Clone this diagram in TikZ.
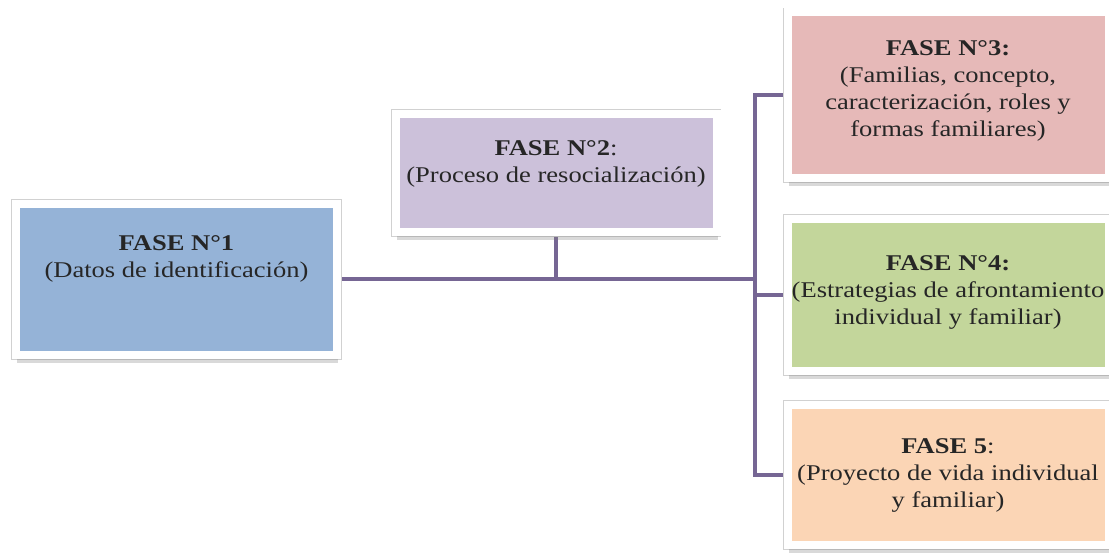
\documentclass[tikz,border=0pt]{standalone}
\usepackage{fontspec}
\setmainfont[FakeStretch=1.18]{Liberation Serif}
\usetikzlibrary{shadows,backgrounds}

\definecolor{azul}{RGB}{149,179,215}
\definecolor{lila}{RGB}{204,193,218}
\definecolor{rosa}{RGB}{230,185,184}
\definecolor{verde}{RGB}{195,214,155}
\definecolor{durazno}{RGB}{251,213,181}
\definecolor{linea}{RGB}{118,102,148}

\begin{document}
\begin{tikzpicture}[x=1pt, y=-1pt,
    caja/.style={draw=white, line width=8pt, minimum width=321pt,
      preaction={draw=black!18, line width=9.5pt},
      drop shadow={shadow xshift=1pt, shadow yshift=-8pt, opacity=.3}},
    texto/.style={align=center, text=black!85, font=\fontsize{22.5}{27}\selectfont},
    enlace/.style={draw=linea, line width=4pt}]
  \useasboundingbox (0,0) rectangle (1109,553);

  % cajas
  \node[caja, fill=azul, minimum height=151pt] (f1) at (176.5,279.5) {};
  \node[caja, fill=lila, minimum height=118pt] (f2) at (556,173) {};
  \node[caja, fill=rosa, minimum height=166pt] (f3) at (948,95.5) {};
  \node[caja, fill=verde, minimum height=152pt] (f4) at (948,295) {};
  \node[caja, fill=durazno, minimum height=140pt] (f5) at (948,475) {};

  % textos
  \node[texto] (t1) at (176.5,259) {\textbf{FASE N°1}\\(Datos de identificación)};
  \node[texto] (t2) at (556,164) {\textbf{FASE N°2}:\\(Proceso de resocialización)};
  \node[texto] (t3) at (948,91) {\textbf{FASE N°3:}\\(Familias, concepto,\\caracterización, roles y\\formas familiares)};
  \node[texto] (t4) at (948,292) {\textbf{FASE N°4:}\\(Estrategias de afrontamiento\\individual y familiar)};
  \node[texto] (t5) at (948,475) {\textbf{FASE 5}:\\(Proyecto de vida individual\\y familiar)};

  % conexiones
  \begin{scope}[on background layer]
    \coordinate (h) at (755,279.5);
    \draw[enlace] (f1) -- (h);
    \draw[enlace] (f2) -- (f2 |- h);
    \draw[enlace] (f3.west) -| (h) |- (f5.west);
    \draw[enlace] (f4.west -| h) -- (f4.west);
  \end{scope}
\end{tikzpicture}
\end{document}
